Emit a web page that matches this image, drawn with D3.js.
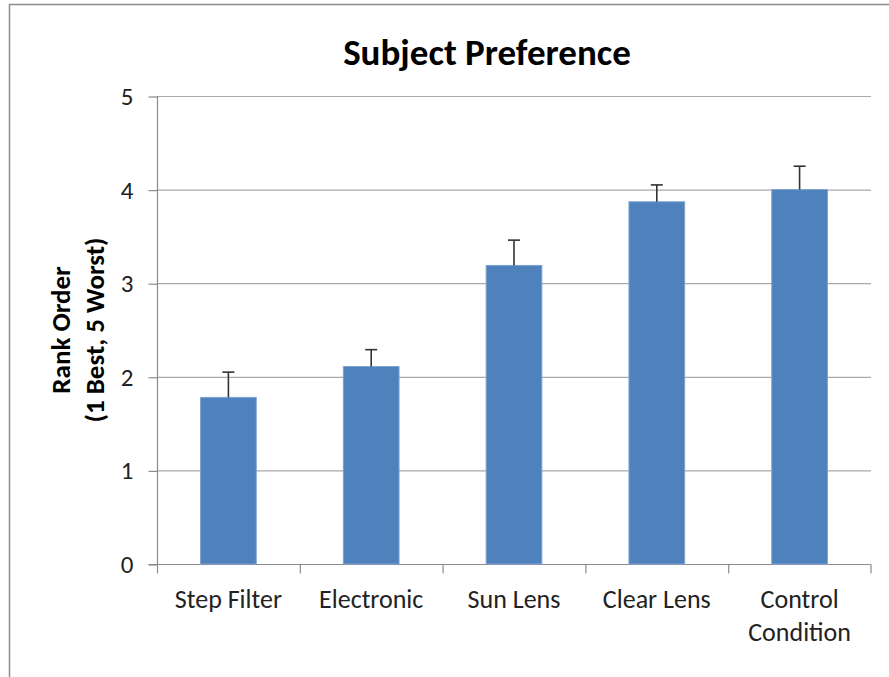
<!DOCTYPE html>
<html><head><meta charset="utf-8">
<script src="https://cdn.jsdelivr.net/npm/d3@7"></script>
<style>body{margin:0;background:#fff}svg{display:block}text{font-family:Carlito,Calibri,Lato,sans-serif}</style>
</head><body><div id="chart"></div>
<script>
const categories = [["Step Filter"],["Electronic"],["Sun Lens"],["Clear Lens"],["Control","Condition"]];
const values = [1.78, 2.11, 3.19, 3.87, 4.00];
const errorTops = [2.05, 2.29, 3.46, 4.05, 4.25];
const yTicks = [0,1,2,3,4,5];
const title = "Subject Preference";
const yTitle = ["Rank Order","(1 Best, 5 Worst)"];

const W=889,H=677;
const svg=d3.select("#chart").append("svg").attr("width",W).attr("height",H);
svg.append("rect").attr("x",9.5).attr("y",4.5).attr("width",W+20).attr("height",H+20)
  .attr("fill","#fff").attr("stroke","#8c8c8c").attr("stroke-width",1.5);

const L=157,R=871,T=96,B=564;
const x=d3.scaleBand().domain(categories.map((c,i)=>i)).range([L,R]).paddingInner(0.61).paddingOuter(0.305);
const xb=d3.scaleBand().domain(categories.map((c,i)=>i)).range([L,R]);
const y=d3.scaleLinear().domain([0,5]).range([B,T]);

// gridlines
svg.append("g").selectAll("line").data(yTicks.filter(d=>d>0)).join("line")
  .attr("x1",L).attr("x2",R).attr("y1",d=>y(d)+0.5).attr("y2",d=>y(d)+0.5)
  .attr("stroke","#aaaaaa").attr("stroke-width",1.2);

// y axis
const ya=svg.append("g").attr("transform",`translate(${L+0.5},0)`)
  .call(d3.axisLeft(y).tickValues(yTicks).tickSize(9).tickPadding(15).tickFormat(d3.format("d")));
ya.select(".domain").attr("stroke","#8c8c8c").attr("stroke-width",1.2).attr("d",`M-9,${B+0.5}H0V${T}`);
ya.selectAll(".tick line").attr("stroke","#8c8c8c").attr("stroke-width",1.2).attr("transform","translate(0,0.5)");
ya.selectAll(".tick text").attr("font-size",25).attr("fill","#222").attr("dy","0.34em").attr("font-family","Carlito,Calibri,Lato,sans-serif");

// x axis
const xa=svg.append("g").attr("transform",`translate(0,${B+0.5})`);
xa.append("line").attr("x1",L).attr("x2",R).attr("stroke","#8c8c8c").attr("stroke-width",1.2);
xa.selectAll("line.t").data(d3.range(categories.length+1)).join("line").attr("class","t")
  .attr("x1",i=>i<categories.length?xb(i)+0.5:R).attr("x2",i=>i<categories.length?xb(i)+0.5:R)
  .attr("y1",0).attr("y2",9).attr("stroke","#8c8c8c").attr("stroke-width",1.2);
const lab=xa.selectAll("text.l").data(categories).join("text").attr("class","l")
  .attr("x",(c,i)=>xb(i)+xb.bandwidth()/2).attr("y",43).attr("text-anchor","middle")
  .attr("font-size",26).attr("fill","#222");
lab.selectAll("tspan").data(d=>d).join("tspan").attr("x",function(){return this.parentNode.getAttribute("x")})
  .attr("dy",(d,i)=>i?33:0).text(d=>d);

// bars
svg.append("g").selectAll("rect").data(values).join("rect")
  .attr("x",(d,i)=>x(i)).attr("width",x.bandwidth()).attr("y",d=>y(d)).attr("height",d=>B-y(d))
  .attr("fill","#4f81bd").attr("stroke","#7fa3d2").attr("stroke-width",1);

// error bars
const eg=svg.append("g").attr("stroke","#333").attr("stroke-width",1.6);
values.forEach((v,i)=>{
  const cx=x(i)+x.bandwidth()/2;
  eg.append("line").attr("x1",cx).attr("x2",cx).attr("y1",y(v)).attr("y2",y(errorTops[i]));
  eg.append("line").attr("x1",cx-6).attr("x2",cx+6).attr("y1",y(errorTops[i])).attr("y2",y(errorTops[i]));
});

// title
svg.append("text").attr("x",487).attr("y",65).attr("text-anchor","middle")
  .attr("font-size",37).attr("font-weight","bold").attr("fill","#000").text(title);

// y title
const yt=svg.append("text").attr("transform","translate(70,330) rotate(-90)").attr("text-anchor","middle")
  .attr("font-size",27).attr("font-weight","bold").attr("fill","#000");
yt.selectAll("tspan").data(yTitle).join("tspan").attr("x",0).attr("dy",(d,i)=>i?34:0).text(d=>d);
</script></body></html>
